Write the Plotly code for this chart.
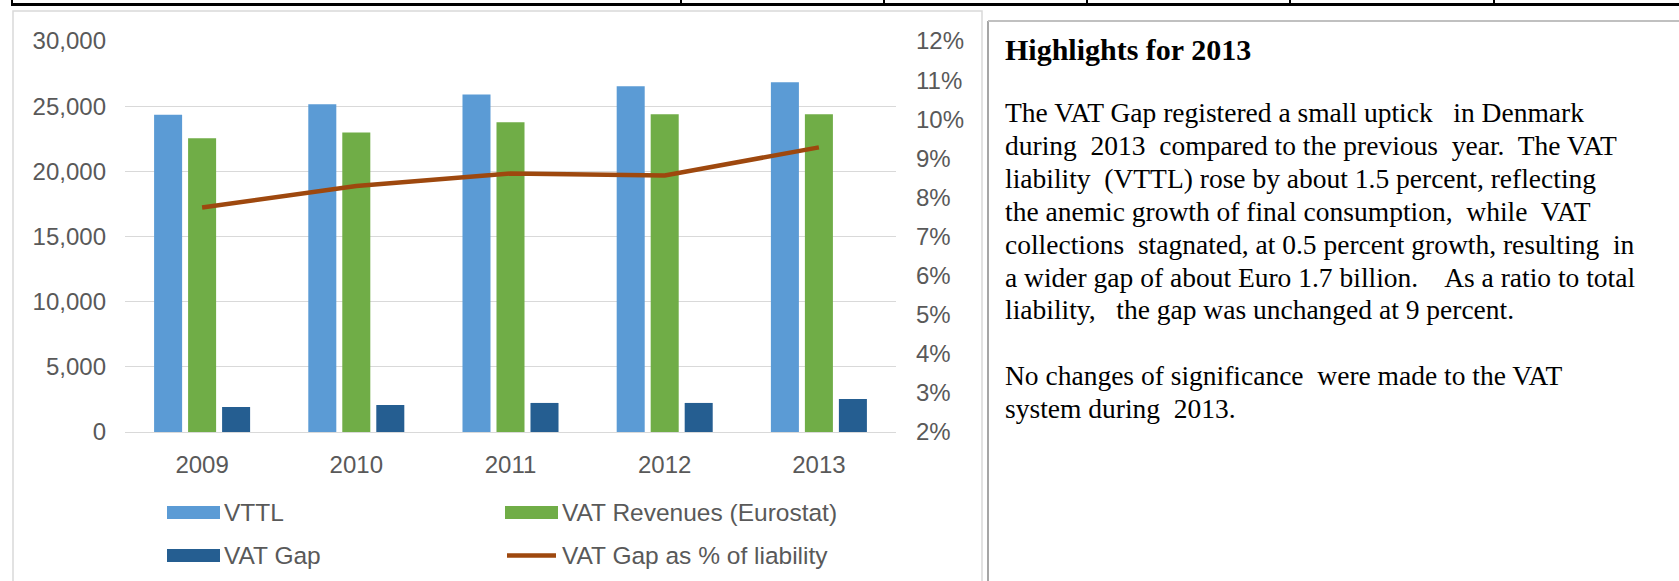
import plotly.graph_objects as go

# ---------------- data ----------------
years = ["2009", "2010", "2011", "2012", "2013"]
vttl = [24350, 25150, 25900, 26520, 26830]
vat_revenues = [22530, 22970, 23760, 24380, 24380]
vat_gap = [1920, 2070, 2230, 2230, 2530]
gap_pct = [7.74, 8.29, 8.61, 8.56, 9.28]

left_ticks = [0, 5000, 10000, 15000, 20000, 25000, 30000]
right_ticks = [2, 3, 4, 5, 6, 7, 8, 9, 10, 11, 12]

legend_names = ["VTTL", "VAT Revenues (Eurostat)", "VAT Gap", "VAT Gap as % of liability"]

heading = "Highlights for 2013"
body_lines = [
    "The VAT Gap registered a small uptick   in Denmark",
    "during  2013  compared to the previous  year.  The VAT",
    "liability  (VTTL) rose by about 1.5 percent, reflecting",
    "the anemic growth of final consumption,  while  VAT",
    "collections  stagnated, at 0.5 percent growth, resulting  in",
    "a wider gap of about Euro 1.7 billion.    As a ratio to total",
    "liability,   the gap was unchanged at 9 percent.",
    "",
    "No changes of significance  were made to the VAT",
    "system during  2013.",
]

# ---------------- styling ----------------
W, H = 1679, 581
L, R, T, B = 125, 896, 41, 432  # plot area in pixels
C_VTTL = "#5B9BD5"
C_REV = "#70AD47"
C_GAP = "#255E91"
C_LINE = "#9E480E"
GRID = "#D9D9D9"
TXT = "#595959"
SANS = "Liberation Sans, Arial, sans-serif"
SERIF = "Liberation Serif, Times New Roman, serif"


def px(x):
    return (x - L) / (R - L)


def py(y):
    return (B - y) / (B - T)


def keep_spaces(s):
    return s.replace("  ", "\u00a0 ")


fig = go.Figure()
fig.add_trace(go.Bar(x=years, y=vttl, name=legend_names[0], marker_color=C_VTTL,
                     marker_line_width=0, showlegend=False))
fig.add_trace(go.Bar(x=years, y=vat_revenues, name=legend_names[1], marker_color=C_REV,
                     marker_line_width=0, showlegend=False))
fig.add_trace(go.Bar(x=years, y=vat_gap, name=legend_names[2], marker_color=C_GAP,
                     marker_line_width=0, showlegend=False))
fig.add_trace(go.Scatter(x=years, y=gap_pct, name=legend_names[3], mode="lines",
                         line=dict(color=C_LINE, width=4.5), yaxis="y2", showlegend=False))

shapes = []
annotations = []

# chart frame
shapes.append(dict(type="rect", xref="paper", yref="paper",
                   x0=px(13), x1=px(982), y0=py(11), y1=py(600),
                   line=dict(color=GRID, width=1.5), fillcolor="rgba(0,0,0,0)", layer="below"))
# text frame
shapes.append(dict(type="line", xref="paper", yref="paper",
                   x0=px(988), x1=px(988), y0=py(21), y1=py(600),
                   line=dict(color="#A6A6A6", width=2)))
shapes.append(dict(type="line", xref="paper", yref="paper",
                   x0=px(988), x1=px(1690), y0=py(21), y1=py(21),
                   line=dict(color="#C0C0C0", width=2)))
# black table line at the top
shapes.append(dict(type="line", xref="paper", yref="paper",
                   x0=px(12), x1=px(1690), y0=py(4.5), y1=py(4.5),
                   line=dict(color="black", width=3)))
for vx in [12, 681, 884, 1087, 1290, 1494]:
    shapes.append(dict(type="line", xref="paper", yref="paper",
                       x0=px(vx), x1=px(vx), y0=py(-2), y1=py(6),
                       line=dict(color="black", width=2)))

# custom legend
leg = [
    (167, 512.5, C_VTTL, "bar", legend_names[0]),
    (505, 512.5, C_REV, "bar", legend_names[1]),
    (167, 555.5, C_GAP, "bar", legend_names[2]),
    (505, 555.5, C_LINE, "line", legend_names[3]),
]
for x0, yc, col, kind, name in leg:
    if kind == "bar":
        shapes.append(dict(type="rect", xref="paper", yref="paper",
                           x0=px(x0), x1=px(x0 + 53), y0=py(yc - 6.5), y1=py(yc + 6.5),
                           line=dict(width=0), fillcolor=col))
    else:
        shapes.append(dict(type="line", xref="paper", yref="paper",
                           x0=px(x0 + 2), x1=px(x0 + 51), y0=py(yc), y1=py(yc),
                           line=dict(color=col, width=4.5)))
    annotations.append(dict(xref="paper", yref="paper", x=px(x0 + 55), y=py(yc),
                            xanchor="left", yanchor="middle", showarrow=False,
                            text=name, font=dict(family=SANS, size=24.5, color=TXT)))

# text panel
annotations.append(dict(xref="paper", yref="paper", x=px(1003), y=py(49),
                        xanchor="left", yanchor="middle", showarrow=False,
                        text="<b>" + heading + "</b>",
                        font=dict(family=SERIF, size=30, color="black")))
for i, line in enumerate(body_lines):
    if not line:
        continue
    annotations.append(dict(xref="paper", yref="paper", x=px(1003), y=py(113 + 32.8 * i),
                            xanchor="left", yanchor="middle", showarrow=False,
                            text=keep_spaces(line),
                            font=dict(family=SERIF, size=27.5, color="black")))

fig.update_layout(
    width=W, height=H,
    margin=dict(l=L, r=W - R, t=T, b=H - B, pad=0),
    paper_bgcolor="white", plot_bgcolor="white",
    barmode="group", bargap=0.3385, bargroupgap=0.176,
    showlegend=False,
    shapes=shapes, annotations=annotations,
    xaxis=dict(type="category", showgrid=False, showline=True, linecolor=GRID, linewidth=1.3,
               ticks="", ticklabelstandoff=11,
               tickfont=dict(family=SANS, size=24, color=TXT)),
    yaxis=dict(range=[0, 30000], tickvals=left_ticks,
               ticktext=[f"{v:,}" for v in left_ticks],
               showgrid=True, gridcolor=GRID, gridwidth=1.3, zeroline=False,
               ticks="", ticklabelstandoff=18,
               tickfont=dict(family=SANS, size=24, color=TXT)),
    yaxis2=dict(range=[2, 12], tickvals=right_ticks,
                ticktext=[f"{v}%" for v in right_ticks],
                overlaying="y", side="right", showgrid=False, zeroline=False,
                ticks="", ticklabelstandoff=19,
                tickfont=dict(family=SANS, size=24, color=TXT)),
)

fig.write_html("out.html", config={"displayModeBar": False},
               post_script="document.body.style.margin='0';")
